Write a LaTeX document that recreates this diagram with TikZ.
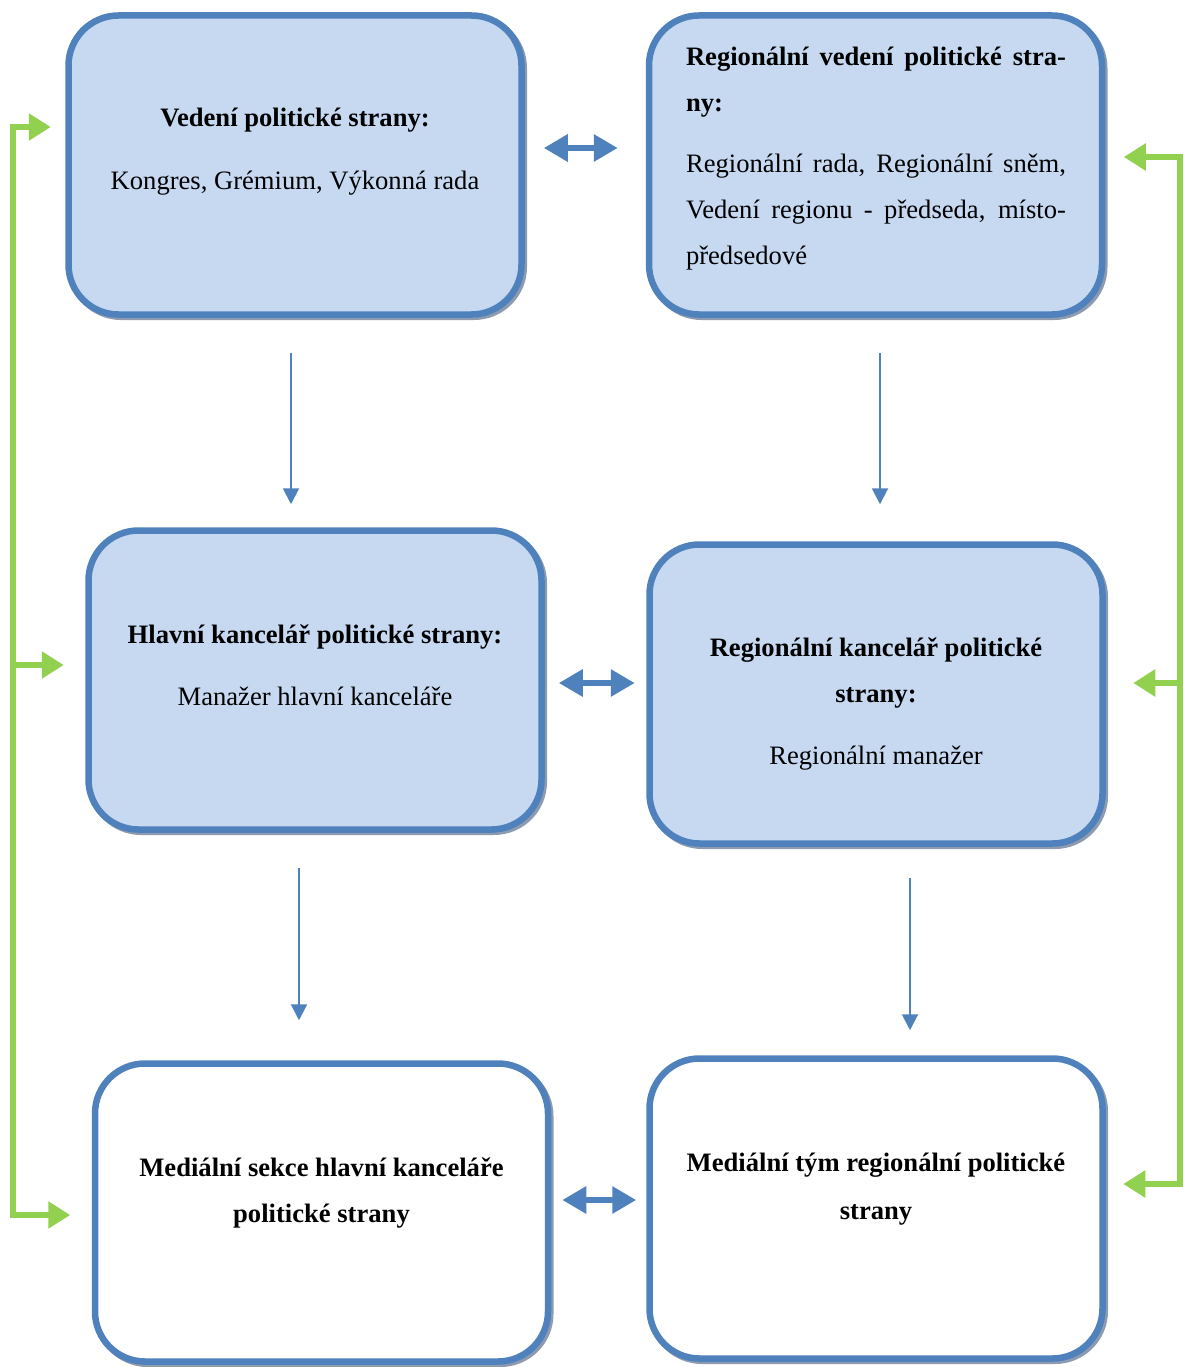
\documentclass[tikz,border=0pt]{standalone}
\usepackage{fontspec}
\setmainfont{Liberation Serif}
\usetikzlibrary{arrows.meta,calc}
\definecolor{bblue}{HTML}{4F81BD}
\definecolor{bfill}{HTML}{C6D9F1}
\definecolor{shadowc}{HTML}{8E9BAE}
\definecolor{ggreen}{HTML}{92D050}
\tikzset{
  box/.style={rectangle, rounded corners=50pt, draw=bblue, line width=6.5pt,
    minimum width=453pt, minimum height=299pt, inner sep=0pt,
    preaction={draw=shadowc, line width=6pt, transform canvas={shift={(2.5pt,-2.5pt)}}}},
  bluebox/.style={box, fill=bfill},
  whitebox/.style={box, fill=white},
  txt/.style={font=\fontsize{26.6}{46}\selectfont, align=center, inner sep=0pt},
  dbl/.style={draw=bblue, line width=6pt, {Triangle[length=24pt,width=26pt]}-{Triangle[length=24pt,width=26pt]}},
  down/.style={draw=bblue, line width=2pt, -{Triangle[length=16pt,width=16pt]}},
  gline/.style={draw=ggreen, line width=5.5pt, line join=miter},
  gtip/.style={-{Triangle[length=22pt,width=26pt]}},
  gtips/.style={{Triangle[length=22pt,width=26pt]}-{Triangle[length=22pt,width=26pt]}}
}
\begin{document}
\begin{tikzpicture}[x=1pt,y=-1pt]
\useasboundingbox (0,0) rectangle (1183,1367);

% boxes
\node[bluebox] (A) at (295,165) {};
\node[bluebox] (B) at (875.5,165) {};
\node[bluebox] (C) at (315,680) {};
\node[bluebox] (D) at (876,694) {};
\node[whitebox, minimum height=298pt] (E) at (321.5,1212.5) {};
\node[whitebox, minimum height=300pt] (F) at (876,1208.5) {};

% texts
\node[txt] (At) at (295,152) {\textbf{Vedení politické strany:}\\[17pt]Kongres, Grémium, Výkonná rada};
\node[txt, text width=380pt, align=justify] (Bt) at (876,159) {\parindent=0pt\hyphenpenalty=10000\textbf{Regionální vedení politické stra-\linebreak ny:}\par\vspace{15pt}Regionální rada, Regionální sněm,\linebreak Vedení regionu - předseda, místo-\linebreak předsedové};
\node[txt] (Ct) at (315,665) {\textbf{Hlavní kancelář politické strany:}\\[16pt]Manažer hlavní kanceláře};
\node[txt] (Dt) at (876,703.5) {\textbf{Regionální kancelář politické}\\\textbf{strany:}\\[16pt]Regionální manažer};
\node[txt] (Et) at (321.5,1192.5) {\textbf{Mediální sekce hlavní kanceláře}\\\textbf{politické strany}};
\node[txt] (Ft) at (876,1189.5) {\textbf{Mediální tým regionální politické}\\[2pt]\textbf{strany}};

% horizontal double arrows
\draw[dbl] ([xshift=19pt,yshift=17pt]A.east) -- ++(74,0);
\draw[dbl] ([xshift=14pt,yshift=-3pt]C.east) -- ++(76,0);
\draw[dbl] ([xshift=11pt,yshift=12.5pt]E.east) -- ++(74,0);

% vertical arrows
\draw[down] ([xshift=-4pt,yshift=-35.5pt]A.south) -- ++(0,151);
\draw[down] ([xshift=4.5pt,yshift=-35.5pt]B.south) -- ++(0,151);
\draw[down] ([xshift=-16pt,yshift=-35.5pt]C.south) -- ++(0,152);
\draw[down] ([xshift=34pt,yshift=-31.5pt]D.south) -- ++(0,152);

% green connectors left
\coordinate (gL) at (13,0);
\coordinate (gA) at ([xshift=-14.5pt,yshift=38pt]A.west);
\coordinate (gC) at ([xshift=-21.5pt,yshift=15pt]C.west);
\coordinate (gE) at ([xshift=-21.5pt,yshift=-2.5pt]E.west);
\draw[gline, gtips] (gA) -- (gL |- gA) -- (gL |- gE) -- (gE);
\draw[gline, gtip] (gL |- gC) -- (gC);

% green connectors right
\coordinate (gR) at (1180,0);
\coordinate (gB) at ([xshift=18.5pt,yshift=8pt]B.east);
\coordinate (gD) at ([xshift=27.5pt,yshift=11pt]D.east);
\coordinate (gF) at ([xshift=17.5pt,yshift=24.5pt]F.east);
\draw[gline, gtips] (gB) -- (gR |- gB) -- (gR |- gF) -- (gF);
\draw[gline, gtip] (gR |- gD) -- (gD);
\end{tikzpicture}
\end{document}
